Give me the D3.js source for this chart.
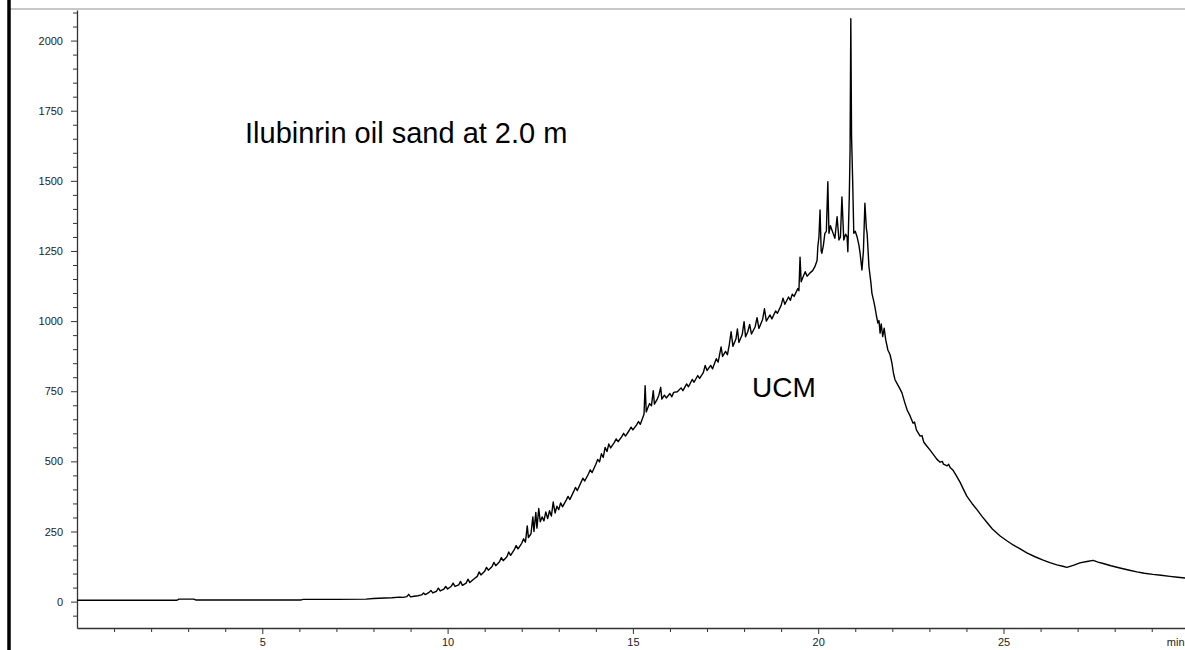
<!DOCTYPE html>
<html>
<head>
<meta charset="utf-8">
<script src="https://cdn.jsdelivr.net/npm/d3@7"></script>
<style>
  html, body { margin: 0; padding: 0; background: #fff; }
  svg { display: block; }
  .tick text { font-family: "Liberation Sans", Arial, sans-serif; font-size: 11px; fill: #222; }
</style>
</head>
<body>
<svg id="chart" width="1185" height="650"></svg>
<script>
// ---- data ----
const chartTitle = "Ilubinrin oil sand at 2.0 m";
const peakLabel = "UCM";
const xUnit = "min";
const yMajorTicks = [0, 250, 500, 750, 1000, 1250, 1500, 1750, 2000];
const xMajorTicks = [5, 10, 15, 20, 25];
// [retention time (min), abundance]
const trace = [
  [0,5],[1,5],[2,5],[2.7,5],[2.75,9],[3.15,9],[3.2,6],[4,6],[5,6],[6.05,6],[6.1,8],[7,8],[7.8,9],
  [8.0,11],[8.3,13],[8.5,14],[8.7,16],[8.8,15],[8.9,18],[8.95,26],[9.0,17],[9.1,19],[9.2,21],[9.3,24],
  [9.35,31],[9.4,25],[9.5,33],[9.55,40],[9.6,31],[9.7,37],[9.75,48],[9.8,38],[9.9,45],[9.95,54],
  [10.0,45],[10.1,55],[10.15,66],[10.2,54],[10.3,60],[10.35,72],[10.4,58],[10.5,66],[10.55,80],[10.6,68],
  [10.7,80],[10.8,90],[10.85,106],[10.9,95],[11.0,108],[11.05,122],[11.1,112],[11.2,125],[11.25,140],
  [11.3,128],[11.4,142],[11.45,157],[11.5,146],[11.6,160],[11.65,177],[11.7,165],[11.8,185],[11.85,200],
  [11.9,188],[12.0,208],[12.05,224],[12.1,212],[12.15,270],[12.18,228],[12.25,242],[12.3,302],[12.33,250],
  [12.38,318],[12.41,262],[12.46,332],[12.5,285],[12.55,302],[12.6,288],[12.65,320],[12.7,296],[12.75,324],
  [12.8,305],[12.85,355],[12.9,316],[12.95,340],[13.0,328],[13.05,352],[13.1,338],[13.2,362],[13.25,375],
  [13.3,364],[13.4,392],[13.45,407],[13.5,396],[13.6,425],[13.65,440],[13.7,430],[13.8,455],[13.85,470],
  [13.9,460],[14.0,490],[14.05,507],[14.1,498],[14.15,527],[14.2,514],[14.25,550],[14.3,535],[14.35,562],
  [14.4,548],[14.5,568],[14.55,580],[14.6,570],[14.7,588],[14.75,600],[14.8,590],[14.9,610],[14.95,622],
  [15.0,612],[15.1,630],[15.15,642],[15.2,632],[15.25,650],[15.3,668],[15.33,770],[15.36,676],[15.4,690],
  [15.45,706],[15.5,698],[15.55,752],[15.58,704],[15.65,720],[15.7,736],[15.75,764],[15.78,722],[15.85,736],
  [15.9,726],[16.0,742],[16.05,730],[16.1,746],[16.2,748],[16.3,762],[16.35,752],[16.45,776],[16.5,766],
  [16.6,792],[16.65,782],[16.75,806],[16.8,796],[16.9,816],[16.95,842],[17.0,824],[17.1,842],[17.15,830],
  [17.25,866],[17.3,854],[17.38,908],[17.42,874],[17.5,892],[17.55,880],[17.6,915],[17.65,962],[17.7,910],
  [17.78,936],[17.82,972],[17.86,924],[17.95,952],[18.0,998],[18.04,944],[18.1,962],[18.15,988],[18.2,954],
  [18.3,980],[18.35,1012],[18.4,974],[18.5,1006],[18.55,1044],[18.6,1000],[18.7,1022],[18.75,1008],
  [18.85,1036],[18.9,1028],[19.0,1056],[19.05,1082],[19.1,1060],[19.2,1086],[19.25,1074],[19.3,1096],
  [19.35,1088],[19.45,1116],[19.48,1108],[19.51,1228],[19.54,1140],[19.59,1157],[19.65,1176],[19.7,1160],
  [19.78,1172],[19.85,1180],[19.91,1194],[19.97,1216],[19.99,1265],[20.02,1300],[20.05,1396],[20.08,1250],
  [20.1,1242],[20.14,1270],[20.18,1313],[20.22,1320],[20.26,1497],[20.29,1313],[20.33,1340],[20.37,1325],
  [20.41,1310],[20.45,1295],[20.51,1372],[20.56,1289],[20.6,1300],[20.64,1443],[20.69,1289],[20.74,1310],
  [20.78,1300],[20.8,1247],[20.84,1450],[20.86,1610],[20.88,2078],[20.9,1660],[20.93,1500],[20.96,1313],
  [21.0,1320],[21.05,1300],[21.1,1270],[21.13,1242],[21.18,1182],[21.22,1250],[21.26,1420],[21.3,1330],
  [21.32,1313],[21.37,1193],[21.42,1140],[21.45,1099],[21.5,1070],[21.53,1051],[21.57,1020],[21.61,993],
  [21.64,1002],[21.67,957],[21.7,990],[21.74,945],[21.78,975],[21.82,935],[21.88,897],[21.94,880],
  [21.99,850],[22.03,815],[22.07,792],[22.15,772],[22.2,760],[22.26,744],[22.33,712],[22.4,683],
  [22.48,662],[22.56,636],[22.6,640],[22.65,612],[22.75,590],[22.8,592],[22.85,568],[22.94,553],
  [23.02,540],[23.1,526],[23.2,508],[23.29,497],[23.35,500],[23.38,490],[23.48,484],[23.52,490],
  [23.56,478],[23.64,468],[23.73,448],[23.83,425],[23.92,400],[24.01,376],[24.15,350],[24.29,327],
  [24.42,304],[24.55,283],[24.7,259],[24.91,234],[25.1,216],[25.26,202],[25.45,188],[25.63,174],
  [25.85,160],[26.07,148],[26.25,139],[26.44,131],[26.6,126],[26.71,122],[26.9,130],[27.06,138],
  [27.25,143],[27.42,147],[27.55,141],[27.69,136],[27.9,128],[28.14,120],[28.4,112],[28.6,106],
  [28.8,101],[29.03,97],[29.25,94],[29.49,90],[29.7,87],[29.9,84]
];

// ---- layout ----
const chartW = 1185, chartH = 650;
const plotLeft = 77, plotBottom = 628, plotTop = 10;
const svg = d3.select("#chart");

const x = d3.scaleLinear().domain([0, 30]).range([plotLeft, plotLeft + 30 * 37.06]);
const y = d3.scaleLinear().domain([-94, 2109]).range([plotBottom, plotTop]);

svg.append("rect").attr("width", chartW).attr("height", chartH).attr("fill", "#fff");

// frame decorations
svg.append("line").attr("x1", 10).attr("x2", chartW).attr("y1", 9).attr("y2", 9)
  .attr("stroke", "#b4b4b4").attr("stroke-width", 1.5);
svg.append("line").attr("x1", 9).attr("x2", 9).attr("y1", 0).attr("y2", chartH)
  .attr("stroke", "#000").attr("stroke-width", 3.5);

// clip
svg.append("clipPath").attr("id", "plotclip").append("rect")
  .attr("x", plotLeft).attr("y", 0).attr("width", chartW - plotLeft).attr("height", plotBottom);

// y axis minor
svg.append("g").attr("transform", `translate(${plotLeft},0)`)
  .call(d3.axisLeft(y).tickValues(d3.range(-50, 2101, 50).filter(v => v % 250 !== 0))
    .tickSize(4).tickFormat(""))
  .call(g => g.select(".domain").remove())
  .call(g => g.selectAll("line").attr("stroke", "#333"));
// y axis major
svg.append("g").attr("transform", `translate(${plotLeft},0)`)
  .call(d3.axisLeft(y).tickValues(yMajorTicks).tickFormat(d3.format("d"))
    .tickSize(6).tickSizeOuter(0).tickPadding(8))
  .call(g => g.select(".domain").attr("stroke", "#333").attr("stroke-width", 1.3))
  .call(g => g.selectAll("line").attr("stroke", "#333"));

// x axis minor
svg.append("g").attr("transform", `translate(0,${plotBottom})`)
  .call(d3.axisBottom(x).tickValues(d3.range(1, 30).filter(v => v % 5 !== 0)).tickSize(4).tickFormat(""))
  .call(g => g.select(".domain").remove())
  .call(g => g.selectAll("line").attr("stroke", "#333"));
// x axis major
svg.append("g").attr("transform", `translate(0,${plotBottom})`)
  .call(d3.axisBottom(x).tickValues(xMajorTicks).tickFormat(d3.format("d"))
    .tickSize(6).tickSizeOuter(0).tickPadding(4))
  .call(g => g.select(".domain").attr("stroke", "#333").attr("stroke-width", 1.3))
  .call(g => g.selectAll("line").attr("stroke", "#333"));

svg.append("text").attr("x", x(30) - 22).attr("y", 646)
  .attr("font-family", "Liberation Sans, Arial, sans-serif").attr("font-size", 11).attr("fill", "#222")
  .text(xUnit);

// trace
const line = d3.line().x(d => x(d[0])).y(d => y(d[1]));
svg.append("path").datum(trace)
  .attr("clip-path", "url(#plotclip)")
  .attr("d", line).attr("fill", "none").attr("stroke", "#000")
  .attr("stroke-width", 1.4).attr("stroke-linejoin", "round");

// annotations
svg.append("text").attr("x", 245).attr("y", 143)
  .attr("font-family", "Liberation Sans, Arial, sans-serif").attr("font-size", 29).attr("fill", "#000")
  .text(chartTitle);
svg.append("text").attr("x", 752).attr("y", 397)
  .attr("font-family", "Liberation Sans, Arial, sans-serif").attr("font-size", 28).attr("fill", "#000")
  .text(peakLabel);
</script>
</body>
</html>
